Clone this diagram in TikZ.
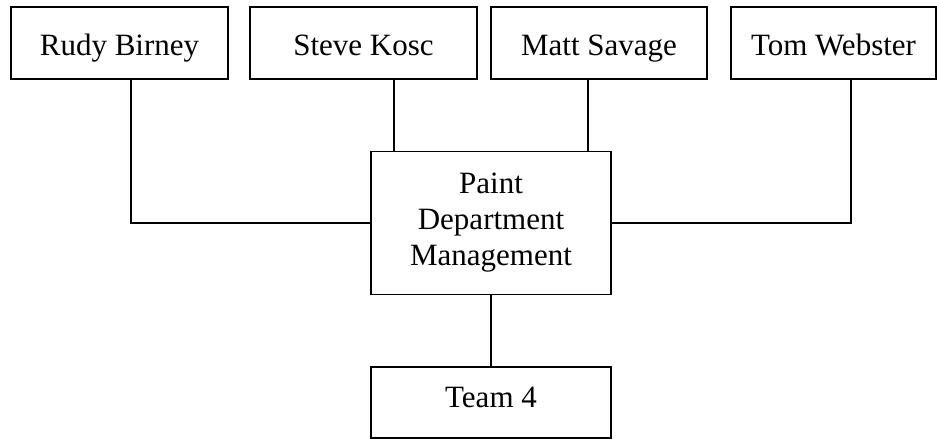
\documentclass[tikz,border=0pt]{standalone}
\usepackage{fontspec}
\setmainfont{Liberation Serif}
\usepackage{tikz}
\usetikzlibrary{positioning}

\begin{document}
\begin{tikzpicture}[x=1pt, y=1pt, line width=1.6pt,
    box/.style={draw, line width=1.6pt, inner sep=0pt, align=center,
        font=\fontsize{31}{36}\selectfont, text height=27pt, text depth=3pt}]
    \useasboundingbox (0,0) rectangle (937,-439);

    % Top row: team members
    \node[box, minimum width=217pt, minimum height=72pt] (rudy)  at (119.5,-43) {Rudy Birney};
    \node[box, minimum width=227pt, minimum height=72pt] (steve) at (363.5,-43) {Steve Kosc};
    \node[box, minimum width=216pt, minimum height=72pt] (matt)  at (599,-43) {Matt Savage};
    \node[box, minimum width=205pt, minimum height=72pt] (tom)   at (833.5,-43) {Tom Webster};

    % Management in the middle
    \node[box, minimum width=240pt, minimum height=143pt, text height=, text depth=] (pdm) at (491,-223)
        {Paint\\Department\\Management};

    % Team below
    \node[box, minimum width=240pt, minimum height=71pt, text height=21pt, text depth=12pt] (team) at (491,-402.5) {Team 4};

    % Connectors
    \coordinate (sk) at ([xshift=24pt]pdm.north west);
    \coordinate (ms) at ([xshift=-24pt]pdm.north east);
    \draw ([xshift=11.5pt]rudy.south) |- (pdm.west);
    \draw ([xshift=17.5pt]tom.south) |- (pdm.east);
    \draw (sk) -- (sk |- steve.south);
    \draw (ms) -- (ms |- matt.south);
    \draw (pdm.south) -- (team.north);
\end{tikzpicture}
\end{document}
